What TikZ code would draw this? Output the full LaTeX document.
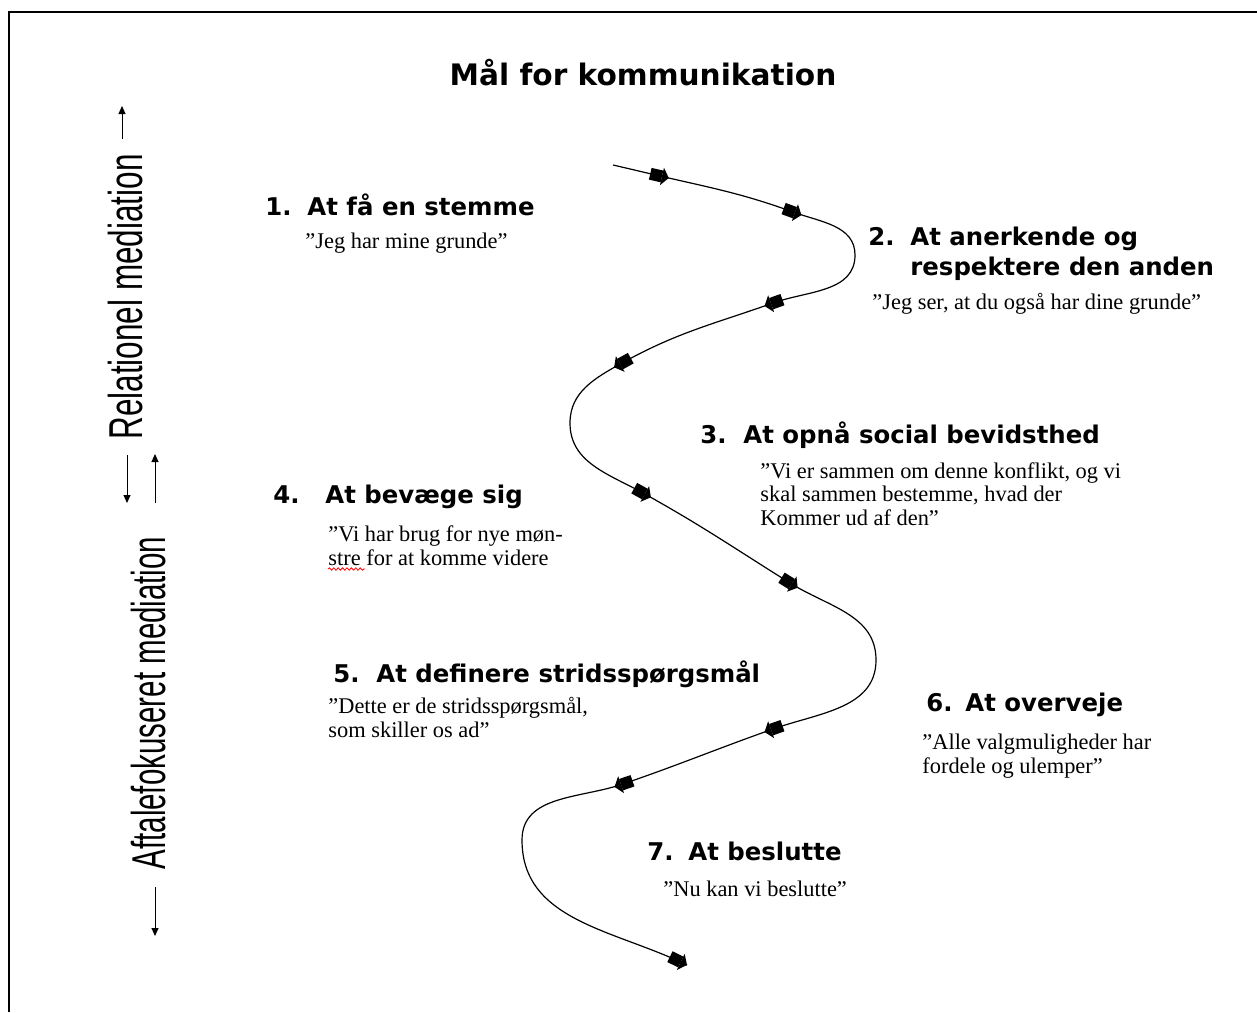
\documentclass[tikz,border=0pt]{standalone}
\usepackage{fontspec}
\setmainfont{Liberation Serif}
\newfontfamily\headfont{DejaVu Sans}
\newfontfamily\sidefont{Liberation Sans}
\usetikzlibrary{decorations.pathmorphing,arrows.meta}

\begin{document}
\begin{tikzpicture}[x=0.5pt,y=-0.5pt,
  title/.style={anchor=base,inner sep=0pt,font=\headfont\bfseries\fontsize{14.8}{18}\selectfont},
  heading/.style={anchor=base west,inner sep=0pt,align=left,font=\headfont\bfseries\fontsize{12.2}{15}\selectfont},
  quote/.style={anchor=base west,inner sep=0pt,align=left,font=\fontsize{11.2}{11.75}\selectfont},
  sidelabel/.style={rotate=90,anchor=base,inner sep=0pt,font=\sidefont\fontsize{23.75}{28}\selectfont},
  axis/.style={line width=0.5pt,-{Triangle[length=4pt,width=3.5pt]}},
  frame/.style={line width=1pt},
  flow/.style={line width=0.6pt},
  flowmark/.pic={\fill (-10,-6) rectangle (2,6); \fill (2,-9) -- (9,0) -- (2,9) -- cycle;},
  flowendmark/.pic={\fill (-19,-6) rectangle (-7,6); \fill (-7,-9) -- (0,0) -- (-7,9) -- cycle;}
]
\useasboundingbox (0,0) rectangle (1257,1012);

% frame
\draw[frame] (9,1012) -- (9,12) -- (1257,12);

% title
\node[title] (title) at (643,85) {Mål for kommunikation};

% side labels and their arrows
\node[sidelabel] (rel) at (142,297) {\scalebox{0.663}[1]{Relationel mediation}};
\node[sidelabel] (aft) at (165,703) {\scalebox{0.621}[1]{Aftalefokuseret mediation}};
\coordinate (relTopA) at (122,139);
\coordinate (relTopB) at (122,106);
\coordinate (midDownA) at (127,455);
\coordinate (midDownB) at (127,503);
\coordinate (midUpA) at (155,503);
\coordinate (midUpB) at (155,454);
\coordinate (aftBotA) at (155,887);
\coordinate (aftBotB) at (155,936);
\draw[axis] (relTopA) -- (relTopB);
\draw[axis] (midDownA) -- (midDownB);
\draw[axis] (midUpA) -- (midUpB);
\draw[axis] (aftBotA) -- (aftBotB);

% steps (multi-line nodes sit on the baseline of their last line)
\node[heading] (h1) at (265,215) {\hbox to 21pt{1.\hfil}At få en stemme};
\node[quote] (q1) at (305,248) {”Jeg har mine grunde”};

\node[heading] (h2) at (868,275) {\hbox to 21pt{2.\hfil}At anerkende og\\\hspace*{21pt}respektere den anden};
\node[quote] (q2) at (872,309) {”Jeg ser, at du også har dine grunde”};

\node[heading] (h3) at (700,443) {\hbox to 21.5pt{3.\hfil}At opnå social bevidsthed};
\node[quote] (q3) at (760,525) {”Vi er sammen om denne konflikt, og vi\\skal sammen bestemme, hvad der\\Kommer ud af den”};

\node[heading] (h4) at (273,503) {\hbox to 26pt{4.\hfil}At bevæge sig};
\node[quote] (q4) at (328,565) {”Vi har brug for nye møn-\\stre for at komme videre};
\draw[red,line width=0.4pt,decorate,decoration={snake,amplitude=0.6pt,segment length=2.2pt}]
  (328,569) -- (365,569);

\node[heading] (h5) at (333,682) {\hbox to 21.5pt{5.\hfil}At definere stridsspørgsmål};
\node[quote] (q5) at (328,737) {”Dette er de stridsspørgsmål,\\som skiller os ad”};

\node[heading] (h6) at (926,711) {\hbox to 19.5pt{6.\hfil}At overveje};
\node[quote] (q6) at (922,773) {”Alle valgmuligheder har\\fordele og ulemper”};

\node[heading] (h7) at (647,860) {\hbox to 20.5pt{7.\hfil}At beslutte};
\node[quote] (q7) at (663,896) {”Nu kan vi beslutte”};

% the winding path through the steps
\coordinate (pathStart) at (613,165);
\coordinate (m1) at (660,176);
\coordinate (m2) at (793,212);
\coordinate (turnR1) at (855,255);
\coordinate (m3) at (773,303);
\coordinate (m4) at (622,363);
\coordinate (turnL1) at (570,423);
\coordinate (m5) at (643,493);
\coordinate (m6) at (790,583);
\coordinate (turnR2) at (876,660);
\coordinate (m7) at (773,729);
\coordinate (m8) at (623,784);
\coordinate (turnL2) at (522,840);
\coordinate (pathEnd) at (687,965);
\draw[flow] (pathStart)
  to[out=-13,in=167] (m1)
  to[out=-13,in=160] (m2)
  to[out=-20,in=90] (turnR1)
  to[out=-90,in=19.5] (m3)
  to[out=-160.5,in=29] (m4)
  to[out=-151,in=90] (turnL1)
  to[out=-90,in=151] (m5)
  to[out=-29,in=148] (m6)
  to[out=-32,in=90] (turnR2)
  to[out=-90,in=19.5] (m7)
  to[out=-160.5,in=19] (m8)
  to[out=-161,in=90] (turnL2)
  to[out=-90,in=154] (pathEnd);

% direction marks along the path
\pic[rotate=-13] at (m1) {flowmark};
\pic[rotate=-20] at (m2) {flowmark};
\pic[rotate=-160.5] at (m3) {flowmark};
\pic[rotate=-151] at (m4) {flowmark};
\pic[rotate=-29] at (m5) {flowmark};
\pic[rotate=-32] at (m6) {flowmark};
\pic[rotate=-160.5] at (m7) {flowmark};
\pic[rotate=-161] at (m8) {flowmark};
\pic[rotate=-26] at (pathEnd) {flowendmark};
\end{tikzpicture}
\end{document}
